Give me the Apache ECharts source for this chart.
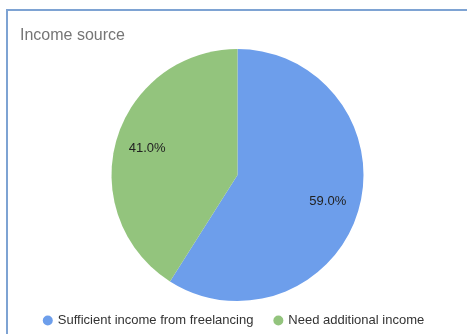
<!DOCTYPE html>
<html>
<head>
<meta charset="utf-8">
<script src="https://cdn.jsdelivr.net/npm/echarts@6/dist/echarts.min.js"></script>
<style>
  html, body { margin: 0; padding: 0; background: #fff; overflow: hidden; }
  #frame {
    position: absolute; left: 6px; top: 9px; width: 480px; height: 340px;
    border-top: 2px solid #7ea3d3; border-left: 2px solid #7ea3d3;
  }
  #chart { position: absolute; left: 0; top: 0; width: 467px; height: 334px; }
</style>
</head>
<body>
<div id="frame"></div>
<div id="chart"></div>
<script>
// Survey answers: share of respondents per income situation
const categories = ['Sufficient income from freelancing', 'Need additional income'];
const shares = [59.0, 41.0];
const colors = ['#6d9eeb', '#93c47d'];

const pieData = categories.map((name, i) => ({
  name: name,
  value: shares[i],
  itemStyle: { color: colors[i] }
}));

const chart = echarts.init(document.getElementById('chart'), null, { renderer: 'canvas' });

const center = [237.5, 175];
const outer = 126;
const font = 'Liberation Sans, Arial, sans-serif';

chart.setOption({
  animation: false,
  title: {
    text: 'Income source',
    left: 15,
    top: 23,
    textStyle: { fontFamily: font, fontSize: 16, fontWeight: 'normal', color: '#757575' }
  },
  legend: {
    top: 309,
    left: 'center',
    icon: 'circle',
    itemWidth: 10,
    itemHeight: 10,
    itemGap: 20,
    textStyle: { fontFamily: font, fontSize: 13, color: '#333' },
    data: categories
  },
  series: [
    {
      type: 'pie',
      center: center,
      radius: [0, outer],
      startAngle: 90,
      clockwise: true,
      label: { show: false },
      labelLine: { show: false },
      itemStyle: { borderWidth: 0 },
      emphasis: { disabled: true },
      data: pieData
    },
    {
      // label-only ring so the percentages sit about 0.72 of the radius out
      type: 'pie',
      center: center,
      radius: [56, outer],
      startAngle: 90,
      clockwise: true,
      silent: true,
      legendHoverLink: false,
      itemStyle: { color: 'transparent', borderWidth: 0 },
      label: {
        show: true,
        position: 'inside',
        formatter: p => p.value.toFixed(1) + '%',
        fontFamily: font,
        fontSize: 13,
        color: '#222'
      },
      labelLine: { show: false },
      emphasis: { disabled: true },
      data: categories.map((name, i) => ({ name: name, value: shares[i] }))
    }
  ]
});
</script>
</body>
</html>
